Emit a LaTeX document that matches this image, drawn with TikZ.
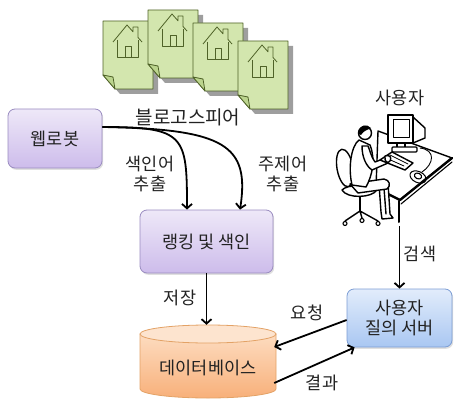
\documentclass[tikz,border=0pt]{standalone}
\usepackage{fontspec}
\setmainfont{Noto Sans CJK KR}
\usetikzlibrary{arrows.meta,shadows}

\definecolor{pagefill}{HTML}{D3E6AE}
\definecolor{pagefold}{HTML}{BCD58E}
\definecolor{pageedge}{HTML}{4F6228}
\definecolor{purpletop}{HTML}{EEE8F8}
\definecolor{purplebot}{HTML}{CDBCEB}
\definecolor{purpleedge}{HTML}{9A8CC0}
\definecolor{bluetop}{HTML}{E2ECFB}
\definecolor{bluebot}{HTML}{A9C7F2}
\definecolor{blueedge}{HTML}{7C9DD4}
\definecolor{dbtop}{HTML}{FDDCC0}
\definecolor{dbbot}{HTML}{F8B07A}
\definecolor{dbcap}{HTML}{FDE4CF}
\definecolor{dbedge}{HTML}{E3A266}
\definecolor{inktext}{HTML}{222222}

\tikzset{
  box/.style={rectangle, rounded corners=7pt, line width=0.8pt, align=center,
    drop shadow={shadow xshift=1.2pt, shadow yshift=-1.8pt, opacity=0.25}},
  purplebox/.style={box, draw=purpleedge, top color=purpletop, bottom color=purplebot},
  bluebox/.style={box, draw=blueedge, top color=bluetop, bottom color=bluebot},
  flow/.style={-{Straight Barb[length=4.5pt,width=10pt]}, line width=1.8pt},
  lbl/.style={inner sep=0pt, align=center},
  ink/.style={line width=1.4pt, line join=round, line cap=round},
  blogpage/.pic={
    % drop shadow of the sheet
    \fill[black, opacity=0.38] (5,5) -- (55,5) -- (55,73) -- (17,73) -- (5,59) -- cycle;
    % sheet with folded lower-left corner
    \filldraw[fill=pagefill, draw=pageedge, line width=0.8pt, line join=round]
      (0,0) -- (50,0) -- (50,68) -- (12,68) -- (0,54) -- cycle;
    \filldraw[fill=pagefold, draw=pageedge, line width=0.8pt, line join=round]
      (0,54) -- (12,68) -- (10,56) -- cycle;
    % house icon
    \draw[pageedge, line width=0.8pt, line join=round]
      (10,21) -- (24,4) -- (30,10.8) -- (30,6) -- (35,6) -- (35,16.5) -- (39,21);
    \draw[pageedge, line width=0.8pt, line join=round]
      (14,19) -- (14,36) -- (35,36) -- (35,19);
    \draw[pageedge, line width=0.8pt, line join=round]
      (22,36) -- (22,25) -- (28,25) -- (28,36);
  }
}

\begin{document}
\begin{tikzpicture}[x=1pt, y=-1pt, font=\fontsize{17.5}{20}\selectfont, text=inktext]
\useasboundingbox (0,0) rectangle (454,398);

% blog pages
\pic at (103,21) {blogpage};
\pic at (148,10) {blogpage};
\pic at (193,23) {blogpage};
\pic at (238,41) {blogpage};
\node[lbl, font=\fontsize{19}{22}\selectfont] (blogo) at (188,117) {블로고스피어};

% boxes
\node[purplebox, minimum width=94pt, minimum height=59pt] (robot) at (55,138.5) {웹로봇};
\node[purplebox, minimum width=133pt, minimum height=63pt] (rank) at (206.5,241.5) {랭킹 및 색인};
\node[bluebox, minimum width=105pt, minimum height=58pt] (server) at (399.5,318) {사용자\\질의 서버};

% database cylinder
\shade[top color=dbtop, bottom color=dbbot, draw=dbedge, line width=0.8pt]
  (140,334) -- (140,389) .. controls (140,394) and (170.5,398) .. (208,398)
  .. controls (245.5,398) and (276,394) .. (276,389) -- (276,334) -- cycle;
\filldraw[fill=dbcap, draw=dbedge, line width=0.8pt]
  (208,334) ellipse [x radius=68pt, y radius=9pt];
\node[minimum width=136pt, minimum height=73pt, inner sep=0pt] (db) at (208,361.5) {};
\node[lbl] (dblabel) at (208,368) {데이터베이스};

% user at the computer
\begin{scope}[ink]
  % desk top and leg
  \filldraw[fill=white] (378,131) -- (452,158) -- (400,200) -- (376,188) -- cycle;
  \draw[line width=2.4pt] (452,158) -- (400,200) -- (378,189);
  \draw[line width=1.1pt] (452,162) -- (401,204);
  \draw[line width=2pt] (398.5,201) -- (398.5,222);
  % chair back and seat
  \filldraw[fill=white, rotate around={10:(345,168)}] (345,168) ellipse [x radius=8pt, y radius=19pt];
  % lower legs
  \filldraw[fill=white] (379,184) -- (388,183) -- (390,214) -- (393,218) -- (382,219) -- (381,212) -- cycle;
  \draw (384,188) -- (386,214);
  % chair seat, pole and base
  \filldraw[fill=white] (342,190) .. controls (347,184) and (372,184) .. (377,190)
    .. controls (372,198) and (347,199) .. (342,190) -- cycle;
  \draw[line width=2.4pt] (360,197) -- (360,211);
  \draw (360,211) -- (345,221) (360,211) -- (362,218) (360,211) -- (378,221);
  \draw[line width=1.1pt] (345,223.5) circle [radius=2pt] (362,220.5) circle [radius=2pt]
    (378,223.5) circle [radius=2pt];
  % thigh
  \filldraw[fill=white] (350,184) -- (384,179) .. controls (390,180) and (391,186) .. (387,189)
    -- (358,193) -- cycle;
  % torso
  \filldraw[fill=white] (359,140) .. controls (351,146) and (348,168) .. (352,185)
    -- (366,187) .. controls (372,176) and (376,160) .. (370,145) -- cycle;
  % arm
  \filldraw[fill=white] (362,146) .. controls (362,157) and (366,166) .. (372,170)
    -- (388,163) -- (388,157) -- (375,162) .. controls (371,157) and (370,150) .. (368,146) -- cycle;
  % head and hair
  \filldraw[fill=white] (365,133) circle [radius=6.5pt];
  \fill (358.5,134) .. controls (358,125) and (367,123) .. (371,128)
    .. controls (368,130) and (364,130) .. (361,135) -- cycle;
  % monitor
  \filldraw[fill=white] (413,117) -- (425,128) -- (425,138) -- (413,143) -- cycle;
  \filldraw[fill=white] (397,142) rectangle (405,148);
  \filldraw[fill=white, rounded corners=1pt] (392,147) rectangle (417,152);
  \filldraw[fill=white, line width=1.6pt] (388,115) rectangle (413,143);
  \draw[line width=1pt] (393,120) rectangle (409,138);
  % keyboard
  \filldraw[fill=white] (380,160) -- (392,152) -- (413,163) -- (405,170) -- cycle;
  \draw[line width=0.8pt] (386,158) -- (404,166) (390,155) -- (408,164);
  % mouse, pad and cable
  \draw[line width=1pt, rotate around={-25:(418,177)}] (418,177) ellipse [x radius=8.5pt, y radius=5.5pt];
  \filldraw[fill=white, line width=1.1pt, rotate around={-25:(418,176)}] (418,176) ellipse [x radius=3.8pt, y radius=2.8pt];
  \draw[line width=0.9pt] (420,148) .. controls (436,150) and (434,164) .. (422,172);
  % hands
  \filldraw[fill=white] (385,156) .. controls (390,154) and (392,158) .. (390,161)
    .. controls (388,164) and (384,162) .. (385,156) -- cycle;
\end{scope}
\coordinate (userfoot) at (399.5,226);
\node[lbl] (userlabel) at (400,98) {사용자};

% flows
\draw[flow] ([yshift=11.5pt]robot.east) .. controls (185,127) and (187,135) .. ([xshift=-19.5pt]rank.north);
\draw[flow] ([yshift=11.5pt]robot.east) .. controls (225,129) and (250,145) .. ([xshift=33.5pt]rank.north);
\draw[flow] (rank.south) -- (rank.south |- db.north);
\draw[flow] (userfoot) -- (userfoot |- server.north);
\draw[flow] ([yshift=-2pt]server.west) -- ([xshift=-2pt,yshift=14.5pt]db.east);
\draw[flow] ([xshift=-2pt,yshift=-21.5pt]db.east) -- ([xshift=8pt]server.south west);

% flow labels
\node[lbl] (l1) at (150,174) {색인어\\추출};
\node[lbl] (l2) at (283,174) {주제어\\추출};
\node[lbl] (l3) at (180,298) {저장};
\node[lbl] (l4) at (420,254) {검색};
\node[lbl] (l5) at (307,313) {요청};
\node[lbl] (l6) at (322,383) {결과};
\end{tikzpicture}
\end{document}
